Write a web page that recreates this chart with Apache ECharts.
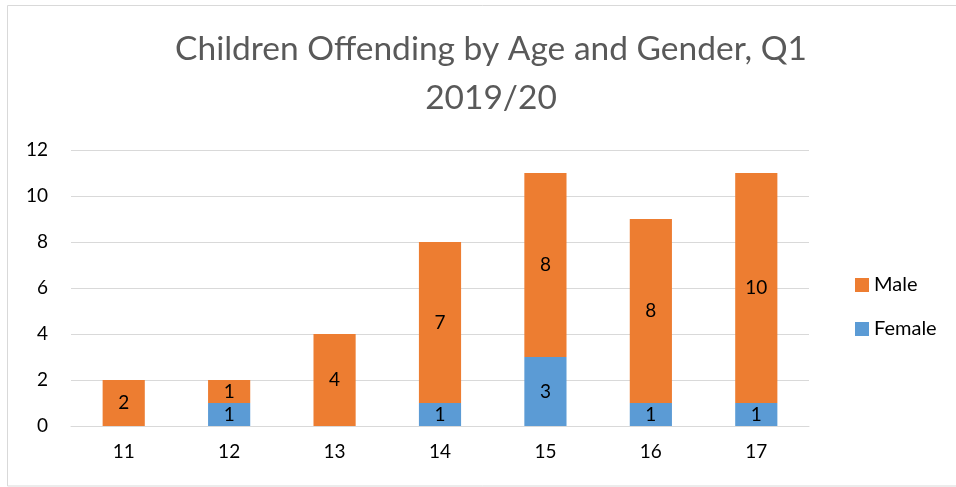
<!DOCTYPE html>
<html><head><meta charset="utf-8">
<script src="https://cdn.jsdelivr.net/npm/echarts@6/dist/echarts.min.js"></script>
<style>html,body{margin:0;padding:0;background:#fff}#c{width:956px;height:487px}</style>
</head><body><div id="c"></div>
<script>
const categories = ['11','12','13','14','15','16','17'];
const female = [0,1,0,1,3,1,1];
const male = [2,1,4,7,8,8,10];
const titleText = 'Children Offending by Age and Gender, Q1\n2019/20';
const FONT = 'Lato';
const chart = echarts.init(document.getElementById('c'), null, {renderer:'canvas'});
const lbl = {show:true, position:'inside', color:'#000', fontFamily:FONT, fontSize:19,
  formatter: p => p.value === 0 ? '' : String(p.value)};
chart.setOption({
  animation:false,
  textStyle:{fontFamily:FONT},
  title:{text:titleText, left:486, textAlign:'center', top:20,
    textStyle:{fontFamily:FONT, fontWeight:'normal', fontSize:33.5, color:'#595959', lineHeight:49}},
  graphic:[{type:'rect', shape:{x:7.5,y:5.5,width:960,height:480.5}, style:{fill:'none', stroke:'#d9d9d9', lineWidth:1}, silent:true}],
  legend:{orient:'vertical', left:850, top:270, itemWidth:14, itemHeight:14, itemGap:24,
    data:['Male','Female'], textStyle:{fontFamily:FONT, fontSize:20, color:'#000'}, icon:'rect'},
  grid:{left:71, right:147, top:150, bottom:61},
  xAxis:{type:'category', data:categories,
    axisLine:{lineStyle:{color:'#d9d9d9', width:1}}, axisTick:{show:false},
    axisLabel:{color:'#000', fontFamily:FONT, fontSize:19, margin:16}},
  yAxis:{type:'value', min:0, max:12, interval:2,
    axisLine:{show:false}, axisTick:{show:false},
    splitLine:{lineStyle:{color:'#d9d9d9', width:1}},
    axisLabel:{color:'#000', fontFamily:FONT, fontSize:19, margin:23}},
  series:[
    {name:'Female', type:'bar', stack:'a', data:female, barWidth:'40%', itemStyle:{color:'#5b9bd5'}, label:lbl},
    {name:'Male', type:'bar', stack:'a', data:male, barWidth:'40%', itemStyle:{color:'#ed7d31'}, label:lbl}
  ]
});
</script></body></html>
